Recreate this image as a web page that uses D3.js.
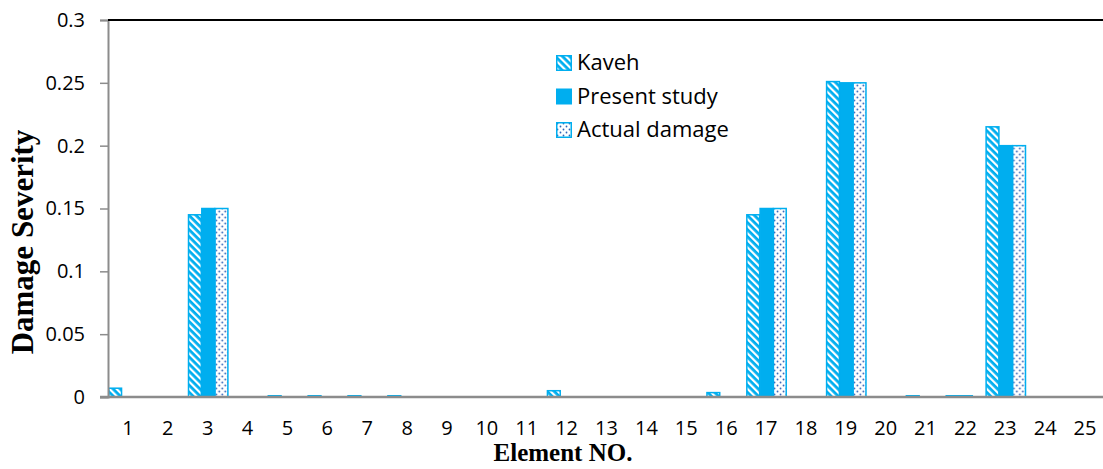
<!DOCTYPE html>
<html>
<head>
<meta charset="utf-8">
<script src="https://cdn.jsdelivr.net/npm/d3@7"></script>
<style>
  html, body { margin: 0; padding: 0; background: #fff; }
  svg { display: block; }
  .tick text { font-family: "Open Sans", Lato, sans-serif; font-size: 20px; fill: #000; }
</style>
</head>
<body>
<svg id="chart" width="1103" height="469"></svg>
<script>
// Element numbers along the x axis
const elements = d3.range(1, 26).map(String);

// Damage severity per element for each series
const kaveh  = [0.007, 0, 0.145, 0, 0.001, 0.001, 0.001, 0.001, 0, 0, 0, 0.005, 0, 0, 0, 0.0035, 0.145, 0, 0.251, 0, 0.001, 0.001, 0.215, 0, 0];
const present = [0, 0, 0.15, 0, 0, 0, 0, 0, 0, 0, 0, 0, 0, 0, 0, 0, 0.15, 0, 0.25, 0, 0, 0.001, 0.2, 0, 0];
const actual  = [0, 0, 0.15, 0, 0, 0, 0, 0, 0, 0, 0, 0, 0, 0, 0, 0, 0.15, 0, 0.25, 0, 0, 0, 0.2, 0, 0];

const seriesNames = ["Kaveh", "Present study", "Actual damage"];
const seriesValues = [kaveh, present, actual];
const yTicks = [0, 0.05, 0.1, 0.15, 0.2, 0.25, 0.3];

const blue = "#00AEEF";
const svg = d3.select("#chart");

// Fill patterns: diagonal stripes, solid, dotted
const defs = svg.append("defs");
const stripe = defs.append("pattern")
  .attr("id", "pat-stripe").attr("patternUnits", "userSpaceOnUse")
  .attr("width", 5).attr("height", 5)
  .attr("patternTransform", "rotate(-45)");
stripe.append("rect").attr("width", 5).attr("height", 5).attr("fill", blue);
stripe.append("rect").attr("x", 0).attr("width", 2.2).attr("height", 5).attr("fill", "#fff");

const dots = defs.append("pattern")
  .attr("id", "pat-dots").attr("patternUnits", "userSpaceOnUse")
  .attr("width", 6).attr("height", 6);
dots.append("rect").attr("width", 6).attr("height", 6).attr("fill", "#fff");
dots.append("circle").attr("cx", 1.5).attr("cy", 1.5).attr("r", 0.9).attr("fill", "#2f62b8");
dots.append("circle").attr("cx", 4.5).attr("cy", 4.5).attr("r", 0.9).attr("fill", "#2f62b8");

const fills = ["url(#pat-stripe)", blue, "url(#pat-dots)"];

const x0 = 108, x1 = 1105, yTop = 20, yBottom = 397;

const x = d3.scaleBand().domain(elements).range([x0, x1]).padding(0);
const xs = d3.scaleBand().domain(seriesNames).range([0, x.bandwidth()]).padding(0);
const y = d3.scaleLinear().domain([0, 0.3]).range([yBottom, yTop]);

// Bars
const groups = svg.append("g").selectAll("g")
  .data(elements)
  .join("g")
  .attr("transform", d => `translate(${x(d)},0)`);

groups.selectAll("rect")
  .data((d, i) => seriesNames.map((s, k) => ({ s, k, v: seriesValues[k][i] })).filter(o => o.v > 0))
  .join("rect")
  .attr("x", o => xs(o.s) + 0.75)
  .attr("width", xs.bandwidth() - 0.5)
  .attr("y", o => y(o.v))
  .attr("height", o => Math.max(0.8, yBottom - y(o.v)))
  .attr("fill", o => fills[o.k])
  .attr("stroke", blue)
  .attr("stroke-width", 1.5);

// Y axis
const yAxis = svg.append("g")
  .attr("transform", `translate(${x0},0)`)
  .call(d3.axisLeft(y).tickValues(yTicks).tickSize(8).tickPadding(15).tickFormat(d => String(d)));
yAxis.select(".domain").attr("stroke", "#8c8c8c").attr("stroke-width", 2);
yAxis.selectAll(".tick line").attr("stroke", "#8c8c8c").attr("stroke-width", 1.5);

// Top border of the plot area
svg.append("line")
  .attr("x1", x0).attr("x2", 1103).attr("y1", yTop).attr("y2", yTop)
  .attr("stroke", "#000").attr("stroke-width", 2);

// X axis
const xAxis = svg.append("g")
  .attr("transform", `translate(0,${yBottom})`)
  .call(d3.axisBottom(x).tickSize(0));
xAxis.select(".domain").remove();
xAxis.selectAll(".tick text").attr("y", 38).attr("dy", 0);
svg.append("line")
  .attr("x1", x0 - 8).attr("x2", 1103).attr("y1", yBottom).attr("y2", yBottom)
  .attr("stroke", "#8c8c8c").attr("stroke-width", 2.5);

// Axis titles
svg.append("text")
  .attr("x", 563).attr("y", 461)
  .attr("text-anchor", "middle")
  .style("font-family", "'Liberation Serif', 'Times New Roman', serif")
  .style("font-weight", "bold").style("font-size", "25px")
  .text("Element NO.");

svg.append("text")
  .attr("transform", "translate(33,242) rotate(-90)")
  .attr("text-anchor", "middle")
  .style("font-family", "'Liberation Serif', 'Times New Roman', serif")
  .style("font-weight", "bold").style("font-size", "31px")
  .text("Damage Severity");

// Legend
const legend = svg.append("g").attr("transform", "translate(556,55)");
const li = legend.selectAll("g").data(seriesNames).join("g")
  .attr("transform", (d, i) => `translate(0,${i * 33.5})`);
li.append("rect")
  .attr("x", 0.75).attr("y", 0.75).attr("width", 14.5).attr("height", 14.5)
  .attr("fill", (d, i) => fills[i]).attr("stroke", blue).attr("stroke-width", 1.5);
li.append("text")
  .attr("x", 21).attr("y", 15)
  .style("font-family", "'Open Sans', Lato, sans-serif").style("font-size", "22px")
  .text(d => d);
</script>
</body>
</html>
